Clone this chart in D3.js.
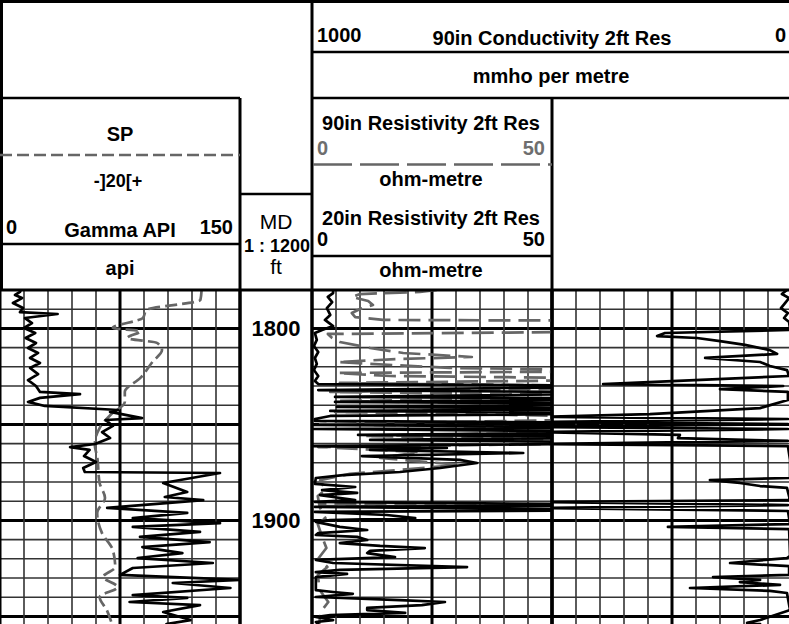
<!DOCTYPE html>
<html>
<head>
<meta charset="utf-8">
<script src="https://cdn.jsdelivr.net/npm/d3@7"></script>
<style>
  body { margin: 0; background: #fff; }
  svg text { font-family: "Liberation Sans", Arial, sans-serif; }
</style>
</head>
<body>
<svg id="chart" width="789" height="624"></svg>
<script>
// Depth window shown in the log (ft)
const topDepth = 1780;
const bottomDepth = 1954;
const depthLabels = [1800, 1900];

// Gamma ray, API  [depth, value]
const gammaRay = [
  [1780.0, 13], [1781.0, 12.5], [1782.6, 9.4], [1784.2, 13.8], [1786.8, 8.1], [1789.4, 14.4],
  [1791.5, 12.5], [1792.5, 36], [1794.6, 15.6], [1797.2, 20], [1799.8, 15], [1802.4, 22],
  [1805.0, 16], [1807.6, 22.5], [1810.2, 17.5], [1812.8, 23.8], [1815.4, 18.8], [1818.0, 25],
  [1820.6, 18.8], [1823.8, 23.8], [1826.9, 17.5], [1830.0, 22.5], [1833.1, 25], [1834.2, 50],
  [1836.2, 25], [1838.3, 17.5], [1840.4, 28], [1842.5, 73.8], [1843.5, 68.8], [1846.7, 88.8],
  [1847.7, 66], [1850.8, 70.6], [1854.0, 63.8], [1857.1, 68.8], [1860.2, 59.4], [1861.8, 43.8],
  [1863.3, 56], [1866.5, 52.5], [1869.6, 60], [1872.7, 52], [1874.8, 53], [1875.3, 137.5],
  [1880.5, 102], [1885.2, 117], [1887.8, 103], [1889.4, 127], [1893.5, 67], [1896.1, 117],
  [1898.8, 83], [1901.4, 137.5], [1903.4, 83], [1906.0, 125], [1908.6, 87.5], [1911.3, 131],
  [1913.9, 89], [1917.0, 114], [1919.6, 86], [1922.2, 133], [1924.8, 83], [1928.4, 75],
  [1931.0, 150], [1932.6, 108], [1935.2, 144], [1938.9, 83], [1940.4, 117], [1942.5, 81],
  [1944.1, 125], [1947.7, 102], [1951.9, 119], [1954.0, 104],
];

// Spontaneous potential, mV  [depth, value]
const spontaneousPotential = [
  [1780.0, 68], [1785.2, 67], [1790.4, 22], [1794.6, 19], [1799.8, -6], [1801.4, 17],
  [1805.0, 6], [1807.6, 31], [1811.3, 35], [1817.5, 27], [1825.8, 17], [1833.1, 4],
  [1838.3, 4], [1845.1, -8], [1851.9, -17], [1860.7, -21], [1867.0, -19], [1880.5, -17],
  [1888.3, -12.5], [1896.1, -19], [1906.6, -15], [1915.4, -6], [1924.3, -4], [1929.5, -14],
  [1934.7, -2], [1939.9, -17], [1946.7, -11], [1953.4, -7],
];

// 20in resistivity 2ft res, ohm-m  [depth, value]
const res20 = [
  [1780.0, 4.4], [1781.6, 4.4], [1783.6, 3.3], [1786.3, 4.2], [1789.4, 3.1], [1793.0, 3.8],
  [1795.6, 2.7], [1798.8, 4.4], [1800.8, 2.1], [1802.4, 0.6], [1806.0, 1.0], [1809.2, 0.4],
  [1812.3, 1.3], [1815.4, 0.6], [1818.5, 1.0], [1821.7, 0.4], [1824.8, 1.3], [1827.4, 0.6],
  [1829.0, 1.3], [1830.0, 80], [1832.1, 1.3], [1833.6, 80], [1835.7, 4.8], [1836.8, 80],
  [1838.3, 4.8], [1839.4, 80], [1840.9, 5.2], [1842.0, 80], [1843.0, 3.8], [1844.1, 80],
  [1845.6, 3.8], [1847.2, 0.6], [1848.2, 0.6], [1849.3, 80], [1850.3, 0.2], [1851.4, 80],
  [1852.4, 0.2], [1854.0, 80], [1855.5, 9.6], [1856.6, 80], [1858.1, 12.1], [1859.7, 80],
  [1861.3, 0.2], [1862.3, 28.1], [1863.3, 12.1], [1864.9, 44], [1866.5, 10.4], [1868.5, 30.8],
  [1870.1, 34.4], [1872.7, 26.7], [1874.8, 18.3], [1876.4, 6.5], [1877.9, 0.8], [1881.0, 0.6],
  [1882.6, 9.0], [1884.2, 2.1], [1885.7, 9.4], [1886.8, 1.7], [1887.8, 4.4], [1889.4, 9.0],
  [1890.4, 0.6], [1892.0, 80], [1893.0, 0.6], [1894.6, 80], [1895.6, 0.6], [1897.2, 15.6],
  [1898.8, 21.5], [1899.8, 3.8], [1900.8, 0.8], [1903.4, 5.8], [1905.0, 11.5], [1906.6, 1.3],
  [1907.6, 0.8], [1908.6, 9.4], [1910.2, 11.5], [1911.8, 5.8], [1913.3, 14.2], [1914.4, 23.5],
  [1915.9, 12.1], [1917.0, 11.5], [1919.1, 17.3], [1920.6, 0.8], [1922.2, 4.4], [1924.3, 32.3],
  [1925.8, 5.8], [1926.9, 0.8], [1927.9, 7.3], [1929.5, 0.8], [1936.3, 0.8], [1937.3, 4.4],
  [1938.3, 8.5], [1939.9, 0.8], [1941.5, 18.3], [1942.5, 27.7], [1944.1, 22.9], [1945.6, 11.5],
  [1946.7, 11.5], [1948.2, 19.4], [1949.3, 3.8], [1950.3, 0.8], [1951.9, 4.4], [1952.9, 0.8],
  [1954.0, 1.3],
];

// 90in resistivity 2ft res, ohm-m  [depth, value]
const res90 = [
  [1780.0, 26.0], [1781.0, 22.5], [1782.1, 10.0], [1783.6, 8.3], [1785.7, 11.7], [1787.8, 12.7],
  [1789.9, 10.0], [1792.0, 8.3], [1794.1, 9.0], [1795.6, 14.8], [1796.1, 80], [1801.4, 80],
  [1802.9, 3.3], [1805.0, 4.2], [1807.1, 5.8], [1810.2, 12.1], [1812.8, 19.0], [1814.9, 33.3],
  [1815.9, 18.3], [1817.5, 5.4], [1819.1, 16.9], [1820.6, 28.7], [1822.2, 80], [1823.2, 5.4],
  [1824.8, 16.3], [1826.4, 80], [1828.4, 5.8], [1830.5, 80], [1833.1, 3.8], [1835.2, 80],
  [1837.8, 5.8], [1840.4, 80], [1843.5, 4.8], [1846.7, 80], [1849.8, 1.7], [1852.9, 80],
  [1856.0, 11], [1859.2, 80], [1861.8, 1.3], [1864.4, 22.5], [1867.5, 14.2], [1871.1, 30.8],
  [1875.8, 7.9], [1879.0, 1.7], [1884.2, 2.8], [1887.3, 1.2], [1891.6, 1.5], [1892.1, 80],
  [1892.6, 1.5], [1898.8, 2.8], [1901.9, 1.2], [1909.2, 2.2], [1914.4, 3.0], [1919.6, 1.4],
  [1924.3, 3.2], [1928.4, 1.2], [1936.3, 1.6], [1942.5, 3.4], [1947.7, 1.8], [1954.0, 1.5],
];

// 90in conductivity 2ft res, mmho/m  [depth, value]
const cond90 = [
  [1780.0, 21], [1782.1, 42], [1784.2, 12], [1786.8, 29], [1789.4, 46], [1792.0, 17],
  [1794.6, 33], [1796.7, 12], [1800.8, 8], [1802.4, 529], [1804.0, 562], [1805.0, 396],
  [1806.6, 300], [1808.6, 196], [1811.3, 92], [1813.3, 62], [1815.4, 362], [1817.5, 133],
  [1819.6, 92], [1821.7, 21], [1824.8, 12], [1829.0, 787], [1829.5, 383], [1830.0, 37],
  [1831.6, 300], [1833.1, 17], [1837.3, 17], [1841.5, 133], [1844.6, 592], [1846.1, 1050],
  [1847.2, 17], [1848.8, 1050], [1849.8, 17], [1851.4, 1050], [1852.4, 17], [1854.0, 1050],
  [1855.5, 467], [1857.1, 475], [1858.6, 17], [1860.2, 1050], [1861.3, 17], [1868.5, 8],
  [1877.9, 8], [1879.0, 342], [1880.5, 217], [1882.1, 133], [1883.1, 21], [1889.4, 8],
  [1890.4, 1050], [1892.0, 17], [1893.5, 1050], [1895.1, 17], [1901.9, 8], [1903.4, 517],
  [1904.5, 12], [1918.5, 8], [1919.6, 21], [1922.2, 258], [1923.8, 12], [1928.4, 12],
  [1929.5, 329], [1931.0, 133], [1932.1, 217], [1933.6, 50], [1935.2, 425], [1936.7, 92],
  [1937.8, 21], [1946.7, 8], [1951.9, 133], [1953.4, 187], [1954.0, 133],
];

const W = 789;
const H = 624;
const headerBottom = 290;
const pxPerFoot = 1.92;
const grey = '#666';

const svg = d3.select('#chart');

// Depth scale shared by every track
const y = d3.scaleLinear()
  .domain([topDepth, bottomDepth])
  .range([headerBottom, headerBottom + (bottomDepth - topDepth) * pxPerFoot]);

// One horizontal scale per curve
const grX = d3.scaleLinear().domain([0, 150]).range([0, 240]);
const spX = d3.scaleLinear().domain([-100, 100]).range([0, 240]);
const resX = d3.scaleLinear().domain([0, 50]).range([312, 552]);
const condX = d3.scaleLinear().domain([1000, 0]).range([552, 792]);

const depthGrid = d3.range(topDepth, bottomDepth + 1, 10);

/**
 * Grid of a track: a line every 10 ft (heavy every 50 ft)
 * and ten columns (heavy at edges and middle)
 */
function drawGrid(id, xScale, ticks) {
  const [x0, x1] = d3.extent(xScale.range());
  const g = svg.append('g').attr('class', `grid ${id}`);

  g.selectAll('line.h')
    .data(depthGrid)
    .join('line')
    .attr('class', 'h')
    .attr('x1', x0)
    .attr('x2', x1)
    .attr('y1', (d) => y(d))
    .attr('y2', (d) => y(d))
    .attr('stroke', (d) => (d % 50 === 0 ? '#000' : '#333'))
    .attr('stroke-width', (d) => (d % 50 === 0 ? 3 : 1.6));

  g.selectAll('line.v')
    .data(ticks)
    .join('line')
    .attr('class', 'v')
    .attr('x1', (d) => xScale(d))
    .attr('x2', (d) => xScale(d))
    .attr('y1', headerBottom)
    .attr('y2', H)
    .attr('stroke', (d, i) => (i % 5 === 0 ? '#000' : '#333'))
    .attr('stroke-width', (d, i) => (i % 5 === 0 ? 3 : 1.6));

  // Curves stay inside their own track
  svg.append('clipPath')
    .attr('id', `clip-${id}`)
    .append('rect')
    .attr('x', x0)
    .attr('y', headerBottom)
    .attr('width', x1 - x0)
    .attr('height', H - headerBottom);
}

drawGrid('gr', grX, d3.range(0, 151, 15));
drawGrid('res', resX, d3.range(0, 51, 5));
drawGrid('cond', condX, d3.range(0, 1001, 100));

function drawCurve(data, xScale, clipId, color, dash, curve = d3.curveLinear) {
  const gen = d3.line()
    .curve(curve)
    .x((d) => xScale(d[1]))
    .y((d) => y(d[0]));

  svg.append('path')
    .datum(data)
    .attr('d', gen)
    .attr('clip-path', `url(#clip-${clipId})`)
    .attr('fill', 'none')
    .attr('stroke', color)
    .attr('stroke-width', 2.7)
    .attr('stroke-linejoin', 'round')
    .attr('stroke-linecap', dash ? 'butt' : 'round')
    .attr('stroke-dasharray', dash || null);
}

drawCurve(res90, resX, 'res', grey, '22,8');
drawCurve(res20, resX, 'res', '#000');
drawCurve(cond90, condX, 'cond', '#000');
drawCurve(spontaneousPotential, spX, 'gr', grey, '12,5', d3.curveMonotoneY);
drawCurve(gammaRay, grX, 'gr', '#000');

// Depth labels
svg.append('g')
  .selectAll('text')
  .data(depthLabels)
  .join('text')
  .attr('x', 276)
  .attr('y', (d) => y(d) + 8)
  .attr('text-anchor', 'middle')
  .attr('font-size', 22)
  .attr('font-weight', 'bold')
  .text((d) => d);

// Header frame
const frame = svg.append('g').attr('class', 'frame');
function rule(x1, y1, x2, y2, w = 2.5, color = '#000', dash = null) {
  frame.append('line')
    .attr('x1', x1).attr('y1', y1).attr('x2', x2).attr('y2', y2)
    .attr('stroke', color)
    .attr('stroke-width', w)
    .attr('stroke-dasharray', dash);
}
rule(0, 1.5, W, 1.5, 3);
rule(1.5, 0, 1.5, headerBottom, 3);
rule(312, 0, 312, H, 3);
rule(312, 52, W, 52);
rule(0, 98, 240, 98);
rule(312, 98, W, 98);
rule(240, 98, 240, H, 3);
rule(240, 194, 312, 194);
rule(0, 244, 240, 244);
rule(552, 98, 552, H, 3);
rule(312, 256, 552, 256);
rule(0, headerBottom, W, headerBottom, 3);
rule(0, 155, 240, 155, 2.5, grey, '12,5');
rule(313, 164.5, 552, 164.5, 2.5, grey, '39,8');

function label(x, yPos, text, anchor = 'middle', size = 20, opts = {}) {
  frame.append('text')
    .attr('x', x)
    .attr('y', yPos)
    .attr('text-anchor', anchor)
    .attr('font-size', size)
    .attr('font-weight', opts.normal ? 'normal' : 'bold')
    .attr('fill', opts.color || '#000')
    .text(text);
}

// Gamma ray / SP header
label(120, 141, 'SP');
label(118, 187, '-]20[+', 'middle', 18);
label(6, 234, '0', 'start');
label(120, 237, 'Gamma API');
label(233, 234, '150', 'end');
label(120, 275, 'api');

// Depth header
label(276, 229, 'MD', 'middle', 21, { normal: true });
label(277, 252, '1 : 1200', 'middle', 18);
label(276, 274, 'ft', 'middle', 21, { normal: true });

// Conductivity header
label(317, 42, '1000', 'start');
label(552, 45, '90in Conductivity 2ft Res');
label(786, 42, '0', 'end');
label(551, 83, 'mmho per metre');

// Resistivity header
label(431, 130, '90in Resistivity 2ft Res');
label(317, 155, '0', 'start', 20, { color: '#6e6e6e' });
label(545, 155, '50', 'end', 20, { color: '#6e6e6e' });
label(431, 186, 'ohm-metre');
label(431, 225, '20in Resistivity 2ft Res');
label(317, 246, '0', 'start');
label(545, 246, '50', 'end');
label(431, 277, 'ohm-metre');
</script>
</body>
</html>
